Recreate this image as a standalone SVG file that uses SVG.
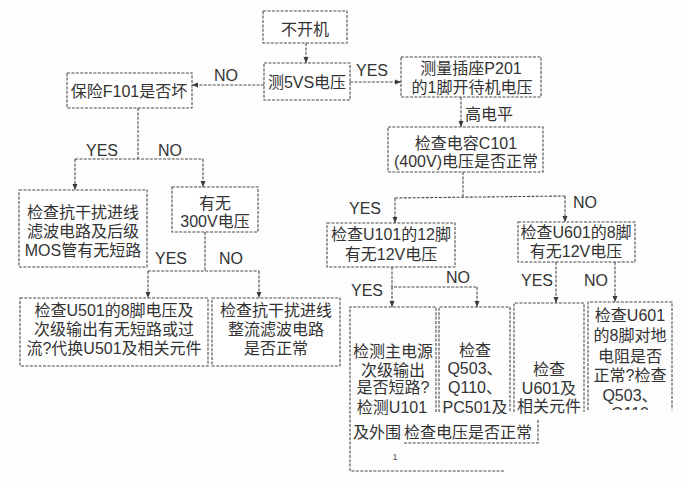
<svg xmlns="http://www.w3.org/2000/svg" width="688" height="488" viewBox="0 0 688 488">
<defs>
<style>
.box{fill:#fff;stroke:#4a4a4a;stroke-width:1.1;stroke-dasharray:3 1.4}
.open{fill:none;stroke:#4a4a4a;stroke-width:1.1;stroke-dasharray:3 1.4}
.ln{fill:none;stroke:#4a4a4a;stroke-width:1.1;stroke-dasharray:3 1.4}
.t{font-family:"Liberation Sans","Noto Sans CJK SC",sans-serif;font-size:16px;fill:#333;text-anchor:middle}
.l{font-family:"Liberation Sans","Noto Sans CJK SC",sans-serif;font-size:16px;fill:#333;text-anchor:start}
</style>
<marker id="ah" viewBox="0 0 6 6" refX="6" refY="3" markerWidth="6" markerHeight="6" markerUnits="userSpaceOnUse" orient="auto">
<path d="M0,0.5 L6,3 L0,5.5 z" fill="#3a3a3a"/>
</marker>
</defs>
<rect width="688" height="488" fill="#fdfdfd"/>

<g id="connectors">
<line class="ln" x1="306" y1="43" x2="306" y2="63" marker-end="url(#ah)"/>
<line class="ln" x1="264" y1="85" x2="192" y2="85" marker-end="url(#ah)"/>
<line class="ln" x1="350" y1="82" x2="401" y2="82" marker-end="url(#ah)"/>
<line class="ln" x1="461" y1="97" x2="461" y2="127" marker-end="url(#ah)"/>
<path class="ln" d="M138,108 V159 M75,159 H203"/>
<line class="ln" x1="75" y1="159" x2="75" y2="190" marker-end="url(#ah)"/>
<line class="ln" x1="203" y1="159" x2="203" y2="187" marker-end="url(#ah)"/>
<path class="ln" d="M205,232 V271 M148,271 H259"/>
<line class="ln" x1="148" y1="271" x2="148" y2="298" marker-end="url(#ah)"/>
<line class="ln" x1="259" y1="271" x2="259" y2="298" marker-end="url(#ah)"/>
<path class="ln" d="M463,172 V197 M395,198 L565,196"/>
<line class="ln" x1="395" y1="198" x2="395" y2="223" marker-end="url(#ah)"/>
<line class="ln" x1="565" y1="196" x2="565" y2="222" marker-end="url(#ah)"/>
<path class="ln" d="M392,267 V287 H477"/>
<line class="ln" x1="392" y1="287" x2="392" y2="307" marker-end="url(#ah)"/>
<line class="ln" x1="477" y1="287" x2="477" y2="307" marker-end="url(#ah)"/>
<line class="ln" x1="556" y1="262" x2="556" y2="303" marker-end="url(#ah)"/>
<line class="ln" x1="615" y1="262" x2="615" y2="302" marker-end="url(#ah)"/>
<text class="t" x="226" y="81">NO</text>
<text class="t" x="372" y="76">YES</text>
<text class="t" x="489" y="120">高电平</text>
<text class="t" x="102" y="156">YES</text>
<text class="t" x="170" y="156">NO</text>
<text class="t" x="171" y="264">YES</text>
<text class="t" x="231" y="264">NO</text>
<text class="t" x="365" y="214">YES</text>
<text class="t" x="585" y="208">NO</text>
<text class="t" x="367" y="296">YES</text>
<text class="t" x="458" y="283">NO</text>
<text class="t" x="537" y="286">YES</text>
<text class="t" x="596" y="286">NO</text>
</g>

<g id="n_start">
<rect class="box" x="263" y="11" width="84" height="32"/>
<text class="t" x="305" y="35">不开机</text>
</g>
<g id="n_5vs">
<rect class="box" x="264" y="63" width="86" height="37"/>
<text class="t" x="307" y="88">测5VS电压</text>
</g>
<g id="n_p201">
<rect class="box" x="401" y="57" width="140" height="40"/>
<text class="t" x="471" y="74">测量插座P201</text>
<text class="t" x="472" y="93">的1脚开待机电压</text>
</g>
<g id="n_fuse">
<rect class="box" x="67" y="73" width="125" height="35"/>
<text class="t" x="129" y="97">保险F101是否坏</text>
</g>
<g id="n_c101">
<rect class="box" x="388" y="127" width="155" height="45"/>
<text class="t" x="466" y="149">检查电容C101</text>
<text class="t" x="466" y="167">(400V)电压是否正常</text>
</g>
<g id="n_emi">
<rect class="box" x="19" y="190" width="128" height="77"/>
<text class="t" x="83" y="218">检查抗干扰进线</text>
<text class="t" x="83" y="237">滤波电路及后级</text>
<text class="t" x="83" y="256">MOS管有无短路</text>
</g>
<g id="n_300v">
<rect class="box" x="172" y="187" width="86" height="45"/>
<text class="t" x="215" y="209">有无</text>
<text class="t" x="215" y="227">300V电压</text>
</g>
<g id="n_u501">
<rect class="box" x="20" y="298" width="188" height="68"/>
<text class="t" x="114" y="316">检查U501的8脚电压及</text>
<text class="t" x="114" y="335">次级输出有无短路或过</text>
<text class="t" x="114" y="354">流?代换U501及相关元件</text>
</g>
<g id="n_rect">
<rect class="box" x="212" y="298" width="128" height="68"/>
<text class="t" x="276" y="316">检查抗干扰进线</text>
<text class="t" x="276" y="335">整流滤波电路</text>
<text class="t" x="276" y="354">是否正常</text>
</g>
<g id="n_u101">
<rect class="box" x="327" y="223" width="128" height="44"/>
<text class="t" x="391" y="240">检查U101的12脚</text>
<text class="t" x="391" y="260">有无12V电压</text>
</g>
<g id="n_u601">
<rect class="box" x="518" y="222" width="117" height="40"/>
<text class="t" x="576" y="238">检查U601的8脚</text>
<text class="t" x="576" y="257">有无12V电压</text>
</g>
<g id="n_q503">
<path class="open" d="M439,412 V307 H510 V412"/>
<text class="t" x="475" y="356">检查</text>
<text class="t" x="475" y="374">Q503、</text>
<text class="t" x="475" y="393">Q110、</text>
<text class="t" x="475" y="413">PC501及</text>
</g>
<g id="n_u601b">
<path class="open" d="M514,412 V303 H584 V412"/>
<text class="t" x="549" y="375">检查</text>
<text class="t" x="549" y="394">U601及</text>
<text class="t" x="549" y="412">相关元件</text>
</g>
<g id="n_u601c">
<path class="open" d="M588,410 V302 H672 V410"/>
<text class="t" x="630" y="321">检查U601</text>
<text class="t" x="630" y="341">的8脚对地</text>
<text class="t" x="630" y="362">电阻是否</text>
<text class="t" x="630" y="381">正常?检查</text>
<text class="t" x="630" y="401">Q503、</text>
<text class="t" x="630" y="419">Q110</text>
</g>
<rect x="437" y="414" width="251" height="74" fill="#fdfdfd"/>
<rect x="586" y="410" width="102" height="78" fill="#fdfdfd"/>
<g id="n_main">
<path class="open" d="M436,412 V307 H350 V471 H505"/>
<text class="t" x="393" y="357">检测主电源</text>
<text class="t" x="393" y="376">次级输出</text>
<text class="t" x="393" y="393">是否短路?</text>
<text class="t" x="392" y="413">检测U101</text>
<text class="l" x="353" y="438">及外围</text>
<text x="395" y="460" font-family="Liberation Sans,sans-serif" font-size="9" fill="#555" text-anchor="middle">1</text>
</g>
<g id="n_volt">
<rect x="403" y="416" width="135" height="27" fill="#fdfdfd"/>
<path class="open" d="M538,420 V443 H403"/>
<text class="l" x="404" y="438">检查电压是否正常</text>
</g>
</svg>
